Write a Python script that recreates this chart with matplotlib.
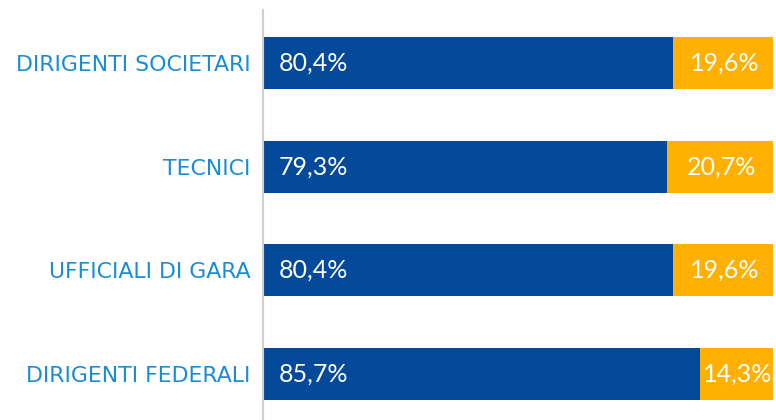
import matplotlib
matplotlib.use("Agg")
import matplotlib.pyplot as plt

categories = ["DIRIGENTI SOCIETARI", "TECNICI", "UFFICIALI DI GARA", "DIRIGENTI FEDERALI"]
blue_vals = [80.4, 79.3, 80.4, 85.7]
orange_vals = [19.6, 20.7, 19.6, 14.3]

BLUE = "#054A9A"
ORANGE = "#FFB000"
LABEL = "#1A8CD5"

fig = plt.figure(figsize=(7.76, 4.2), dpi=100)
ax = fig.add_axes([263/776, 0, 510/776, 410/420])

n = len(categories)
ys = [n - 1 - i for i in range(n)]
ax.barh(ys, blue_vals, height=0.5, color=BLUE)
ax.barh(ys, orange_vals, left=blue_vals, height=0.5, color=ORANGE)

for y, b, o in zip(ys, blue_vals, orange_vals):
    ax.text(3, y, f"{b:.1f}%".replace(".", ","), color="white", va="center", ha="left",
            fontsize=18, family="Lato")
    ax.text(b + o / 2 + 0.3, y, f"{o:.1f}%".replace(".", ","), color="white", va="center",
            ha="center", fontsize=18, family="Lato")

ax.set_xlim(0, 100)
ax.set_ylim(-0.444, 3.511)
ax.set_yticks(ys)
ax.set_yticklabels(categories, color=LABEL, fontsize=15.8, family="DejaVu Sans")
ax.tick_params(axis="y", length=0, pad=9)
ax.set_xticks([])
for s in ["top", "right", "bottom"]:
    ax.spines[s].set_visible(False)
ax.spines["left"].set_color("#D0D0D0")
ax.spines["left"].set_linewidth(1.5)

fig.savefig("out.png", dpi=100)
